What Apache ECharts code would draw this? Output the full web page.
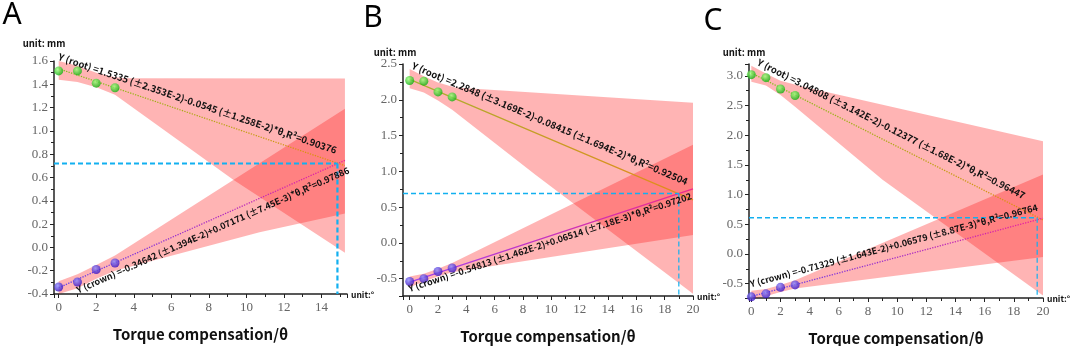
<!DOCTYPE html>
<html>
<head>
<meta charset="utf-8">
<script src="https://cdn.jsdelivr.net/npm/echarts@6/dist/echarts.min.js"></script>
<style>
  html, body { margin: 0; padding: 0; background: #fff; }
  #chart { width: 1072px; height: 346px; }
</style>
</head>
<body>
<div id="chart"></div>
<script>
// measured points, theta = 0..3
var theta = [0, 1, 2, 3];
var rootA = [1.515, 1.515, 1.41, 1.37];
var crownA = [-0.34, -0.297, -0.19, -0.134];
var rootB = [2.27, 2.26, 2.11, 2.04];
var crownB = [-0.54, -0.50, -0.40, -0.35];
var rootC = [3.02, 2.97, 2.78, 2.67];
var crownC = [-0.72, -0.67, -0.56, -0.52];

// fitted lines, start and end
var fitRootA = [[0, 1.5335], [15.25, 0.702]];
var fitCrownA = [[0, -0.346], [15.25, 0.747]];
var fitRootB = [[0, 2.2848], [20, 0.602]];
var fitCrownB = [[0, -0.548], [20, 0.755]];
var fitRootC = [[0, 3.048], [20, 0.573]];
var fitCrownC = [[0, -0.713], [20, 0.603]];

// confidence bands [theta, value]
var bandRootUpA = [[0, 1.60], [1, 1.56], [2, 1.50], [3, 1.46], [3.6, 1.452], [15.25, 1.45]];
var bandRootLowA = [[0, 1.44], [1, 1.42], [2, 1.375], [3, 1.31], [9.3, 0.58], [15.25, -0.045]];
var bandCrownUpA = [[0, -0.29], [1, -0.23], [2, -0.15], [3, -0.07], [15.25, 1.19]];
var bandCrownLowA = [[0, -0.40], [1, -0.35], [2, -0.27], [3, -0.20], [10.7, 0.13], [15.25, 0.29]];

var bandRootUpB = [[0, 2.43], [1, 2.33], [2, 2.24], [3.2, 2.17], [20, 1.96]];
var bandRootLowB = [[0, 2.16], [1, 2.10], [2, 1.99], [3, 1.86], [8.9, 0.95], [20, -0.71]];
var bandCrownUpB = [[0, -0.47], [1, -0.43], [2, -0.36], [3, -0.28], [20, 1.37]];
var bandCrownLowB = [[0, -0.62], [1, -0.54], [2, -0.47], [3, -0.41], [20, 0.11]];

var bandRootUpC = [[0, 3.17], [1, 3.04], [2, 2.92], [3.5, 2.82], [20, 1.90]];
var bandRootLowC = [[0, 2.90], [1, 2.84], [2, 2.68], [3, 2.48], [9, 1.25], [20, -0.70]];
var bandCrownUpC = [[0, -0.62], [1, -0.59], [2, -0.52], [3, -0.44], [20, 1.34]];
var bandCrownLowC = [[0, -0.75], [1, -0.71], [2, -0.64], [3, -0.58], [20, -0.05]];

// intersection guide lines
var crossA = [14.85, 0.72];
var crossB = [19.0, 0.69];
var crossC = [19.6, 0.61];

var xMin = [-0.25, -0.47, -0.16];
var xMax = [15.36, 20, 20];
var yMin = [-0.4, -0.742, -0.74];
var yMax = [1.6, 2.5, 3.2];

var eqRoot = [
  'Y (root) =1.5335 (±2.353E-2)-0.0545 (±1.258E-2)*θ,R²=0.90376',
  'Y (root) =2.2848 (±3.169E-2)-0.08415 (±1.694E-2)*θ,R²=0.92504',
  'Y (root) =3.04808 (±3.142E-2)-0.12377 (±1.68E-2)*θ,R²=0.96447'
];
var eqCrown = [
  'Y (crown) =-0.34642 (±1.394E-2)+0.07171 (±7.45E-3)*θ,R²=0.97886',
  'Y (crown) =-0.54813 (±1.462E-2)+0.06514 (±7.18E-3)*θ,R²=0.97202',
  'Y (crown) =-0.71329 (±1.643E-2)+0.06579 (±8.87E-3)*θ,R²=0.96764'
];

var grids = [
  { left: 54, top: 61, width: 293, height: 233 },
  { left: 403, top: 64, width: 290, height: 232 },
  { left: 749, top: 64, width: 294, height: 234 }
];

var chart = echarts.init(document.getElementById('chart'));

var axisColor = '#222';
var labelFont = 'Liberation Serif';
var boldFont = '"Noto Sans CJK SC", "Noto Sans", sans-serif';

function xAxis(i) {
  return {
    type: 'value', gridIndex: i, min: xMin[i], max: xMax[i], splitNumber: 9,
    axisLine: { show: true, onZero: false, lineStyle: { color: axisColor, width: 1.5 } },
    axisTick: { show: true, length: 4, lineStyle: { color: axisColor } },
    minorTick: { show: true, splitNumber: 2, length: 3, lineStyle: { color: axisColor } },
    splitLine: { show: false },
    axisLabel: {
      fontFamily: labelFont, fontSize: 13, color: '#666', margin: 7,
      showMinLabel: false, showMaxLabel: i > 0,
      formatter: function (v) { return Math.abs(v - Math.round(v)) < 1e-6 ? String(Math.round(v)) : ''; }
    },
    name: 'Torque compensation/θ', nameLocation: 'middle', nameGap: 33,
    nameTextStyle: { fontFamily: boldFont, fontWeight: 'bold', fontSize: 15, color: '#111' }
  };
}

function yAxis(i) {
  var ax = {
    type: 'value', gridIndex: i, min: yMin[i], max: yMax[i],
    axisLine: { show: true, onZero: false, lineStyle: { color: axisColor, width: 1.5 } },
    axisTick: { show: true, length: 4, lineStyle: { color: axisColor } },
    minorTick: { show: true, splitNumber: 2, length: 3, lineStyle: { color: axisColor } },
    splitLine: { show: false },
    axisLabel: {
      fontFamily: labelFont, fontSize: 13, color: '#666', margin: 6,
      showMinLabel: i === 0, showMaxLabel: i !== 2,
      formatter: function (v) { return v.toFixed(1); }
    }
  };
  if (i === 0) ax.interval = 0.2; else ax.splitNumber = 7;
  return ax;
}

function bandSeries(i, upper, lower) {
  return {
    type: 'custom', xAxisIndex: i, yAxisIndex: i, silent: true, clip: true, z: 1,
    data: [[0, 0]],
    renderItem: function (params, api) {
      var pts = upper.map(function (p) { return api.coord(p); })
        .concat(lower.slice().reverse().map(function (p) { return api.coord(p); }));
      return { type: 'polygon', shape: { points: pts }, style: { fill: 'rgba(255,22,22,0.32)' } };
    }
  };
}

function fitSeries(i, data, c1, c2, dotted) {
  return {
    type: 'line', xAxisIndex: i, yAxisIndex: i, data: data, symbol: 'none', z: 3, silent: true,
    lineStyle: {
      width: 1.3, type: dotted ? 'dotted' : 'solid',
      color: new echarts.graphic.LinearGradient(0, 0, 1, 0, [
        { offset: 0, color: c1 }, { offset: 1, color: c2 }
      ])
    }
  };
}

function pointSeries(i, vals, light, dark) {
  return {
    type: 'scatter', xAxisIndex: i, yAxisIndex: i, z: 5, symbolSize: 9,
    data: theta.map(function (t, k) { return [t, vals[k]]; }),
    itemStyle: {
      color: new echarts.graphic.RadialGradient(0.4, 0.35, 0.65, [
        { offset: 0, color: light }, { offset: 1, color: dark }
      ])
    }
  };
}

function guideSeries(i, pt, wh, wv) {
  var dash = { type: 'line', xAxisIndex: i, yAxisIndex: i, symbol: 'none', z: 4, silent: true };
  var h = Object.assign({}, dash, {
    data: [[xMin[i], pt[1]], [pt[0], pt[1]]],
    lineStyle: { color: '#12b0f0', width: wh, type: [5, 3] }
  });
  var v = Object.assign({}, dash, {
    data: [[pt[0], pt[1]], [pt[0], yMin[i]]],
    lineStyle: { color: '#12b0f0', width: wv, type: [5, 3] }
  });
  return [h, v];
}

var panels = [
  { rootP: rootA, crownP: crownA, fr: fitRootA, fc: fitCrownA, bru: bandRootUpA, brl: bandRootLowA, bcu: bandCrownUpA, bcl: bandCrownLowA, cross: crossA, wh: 2.2, wv: 2.2, dotted: true, cr: ['#7cc21a', '#e88a10'], cc: ['#5a3cf0', '#f0209a'] },
  { rootP: rootB, crownP: crownB, fr: fitRootB, fc: fitCrownB, bru: bandRootUpB, brl: bandRootLowB, bcu: bandCrownUpB, bcl: bandCrownLowB, cross: crossB, wh: 1.3, wv: 1.2, dotted: false, cr: ['#a8b030', '#e8881a'], cc: ['#a040f0', '#f0288a'] },
  { rootP: rootC, crownP: crownC, fr: fitRootC, fc: fitCrownC, bru: bandRootUpC, brl: bandRootLowC, bcu: bandCrownUpC, bcl: bandCrownLowC, cross: crossC, wh: 1.6, wv: 1.2, dotted: true, cr: ['#7cc21a', '#e88a10'], cc: ['#5a3cf0', '#f0209a'] }
];

var series = [];
panels.forEach(function (p, i) {
  series.push(bandSeries(i, p.bru, p.brl));
  series.push(bandSeries(i, p.bcu, p.bcl));
  series.push(fitSeries(i, p.fr, p.cr[0], p.cr[1], p.dotted));
  series.push(fitSeries(i, p.fc, p.cc[0], p.cc[1], p.dotted));
  series = series.concat(guideSeries(i, p.cross, p.wh, p.wv));
  series.push(pointSeries(i, p.rootP, '#9dff7a', '#12b012'));
  series.push(pointSeries(i, p.crownP, '#8d8cff', '#3a12c0'));
});

var option = {
  animation: false,
  backgroundColor: '#fff',
  grid: grids.map(function (g) { return Object.assign({ containLabel: false, outerBoundsMode: 'none' }, g); }),
  xAxis: [0, 1, 2].map(xAxis),
  yAxis: [0, 1, 2].map(yAxis),
  series: series
};
chart.setOption(option);

// static texts
var letters = [['A', 12, 15], ['B', 373, 18], ['C', 713, 21]];
var unitMm = [[44, 43], [395, 52], [744, 52]];
var graphics = [];
letters.forEach(function (l) {
  graphics.push({ type: 'text', x: l[1], y: l[2], style: { text: l[0], font: '30px "Noto Sans", sans-serif', fill: '#000', align: 'center', verticalAlign: 'middle' } });
});
unitMm.forEach(function (u) {
  graphics.push({ type: 'text', x: u[0], y: u[1], style: { text: 'unit: mm', font: 'bold 9.5px ' + boldFont, fill: '#111', align: 'center', verticalAlign: 'middle' } });
});
grids.forEach(function (g) {
  graphics.push({ type: 'text', x: g.left + g.width + 4, y: g.top + g.height + 1, style: { text: 'unit:°', font: 'bold 8.5px ' + boldFont, fill: '#111', align: 'left', verticalAlign: 'middle' } });
});

// equation labels laid along the fitted lines
var labelAt = [
  { root: [7.4, 1.236], crown: [8.21, 0.149] },
  { root: [9.9, 1.668], crown: [9.9, 0.01] },
  { root: [9.6, 2.11], crown: [9.77, 0.144] }
];
panels.forEach(function (p, i) {
  [['root', p.fr, eqRoot[i], 9.5], ['crown', p.fc, eqCrown[i], 9]].forEach(function (e) {
    var at = chart.convertToPixel({ gridIndex: i }, labelAt[i][e[0]]);
    var a = chart.convertToPixel({ gridIndex: i }, e[1][0]);
    var b = chart.convertToPixel({ gridIndex: i }, e[1][1]);
    var ang = Math.atan2(a[1] - b[1], b[0] - a[0]);
    graphics.push({
      type: 'text', x: at[0], y: at[1], rotation: ang, z: 10,
      style: { text: e[2], font: 'bold ' + e[3] + 'px ' + boldFont, fill: '#111', align: 'center', verticalAlign: 'middle' }
    });
  });
});
chart.setOption({ graphic: graphics });
</script>
</body>
</html>
